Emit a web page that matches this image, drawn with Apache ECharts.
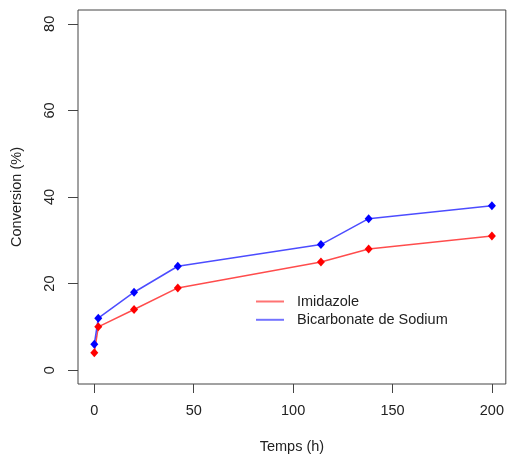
<!DOCTYPE html>
<html>
<head>
<meta charset="utf-8">
<script src="https://cdn.jsdelivr.net/npm/echarts@6/dist/echarts.min.js"></script>
<style>
html,body{margin:0;padding:0;background:#fff;}
#chart{width:507px;height:461px;}
</style>
</head>
<body>
<div id="chart"></div>
<script>
const time = [0, 2, 20, 42, 114, 138, 200];
const imidazole = [4, 10, 14, 19, 25, 28, 31];
const bicarbonate = [6, 12, 18, 24, 29, 35, 38];
const xTicks = [0, 50, 100, 150, 200];
const yTicks = [0, 20, 40, 60, 80];
const seriesNames = ['Imidazole', 'Bicarbonate de Sodium'];

const FONT = '"Liberation Sans", Arial, Helvetica, sans-serif';
const AX = '#444';

const chart = echarts.init(document.getElementById('chart'), null, {renderer: 'canvas'});
const pairs = (ys) => time.map((t, i) => [t, ys[i]]);

chart.setOption({
  animation: false,
  backgroundColor: '#fff',
  grid: {left: 78, top: 10, width: 428, height: 374, show: true, borderColor: AX, borderWidth: 1, backgroundColor: 'transparent'},
  xAxis: {
    type: 'value', min: -8.2, max: 207,
    name: 'Temps (h)', nameLocation: 'middle', nameGap: 55,
    nameTextStyle: {fontFamily: FONT, fontSize: 14.5, color: '#222'},
    axisLine: {show: false, onZero: false},
    splitLine: {show: false},
    axisTick: {show: true, length: 9, inside: false, lineStyle: {color: AX, width: 1}, customValues: xTicks},
    axisLabel: {fontFamily: FONT, fontSize: 14.5, color: '#222', margin: 19, customValues: xTicks}
  },
  yAxis: {
    type: 'value', min: -3.2, max: 83.2,
    name: 'Conversion (%)', nameLocation: 'middle', nameGap: 54, nameRotate: 90,
    nameTextStyle: {fontFamily: FONT, fontSize: 14.5, color: '#222'},
    axisLine: {show: false, onZero: false},
    splitLine: {show: false},
    axisTick: {show: true, length: 10, inside: false, lineStyle: {color: AX, width: 1}, customValues: yTicks},
    axisLabel: {fontFamily: FONT, fontSize: 14.5, color: '#222', margin: 21, rotate: 90, customValues: yTicks}
  },
  legend: {
    orient: 'vertical', left: 256, top: 293.5, padding: 0, itemGap: 2.3,
    itemWidth: 28, itemHeight: 2, icon: 'rect',
    textStyle: {fontFamily: FONT, fontSize: 14.5, color: '#222', lineHeight: 16, padding: [0, 0, 0, 8]},
    data: [
      {name: seriesNames[0], itemStyle: {color: 'rgba(255,0,0,0.55)'}},
      {name: seriesNames[1], itemStyle: {color: 'rgba(0,0,255,0.55)'}}
    ]
  },
  series: [
    {
      name: seriesNames[0], type: 'line', data: pairs(imidazole),
      symbol: 'diamond', symbolSize: [8, 9],
      itemStyle: {color: '#ff0000'},
      lineStyle: {color: 'rgba(255,0,0,0.7)', width: 1.5}
    },
    {
      name: seriesNames[1], type: 'line', data: pairs(bicarbonate),
      symbol: 'diamond', symbolSize: [8, 9],
      itemStyle: {color: '#0000ff'},
      lineStyle: {color: 'rgba(0,0,255,0.7)', width: 1.5}
    }
  ]
});
</script>
</body>
</html>
